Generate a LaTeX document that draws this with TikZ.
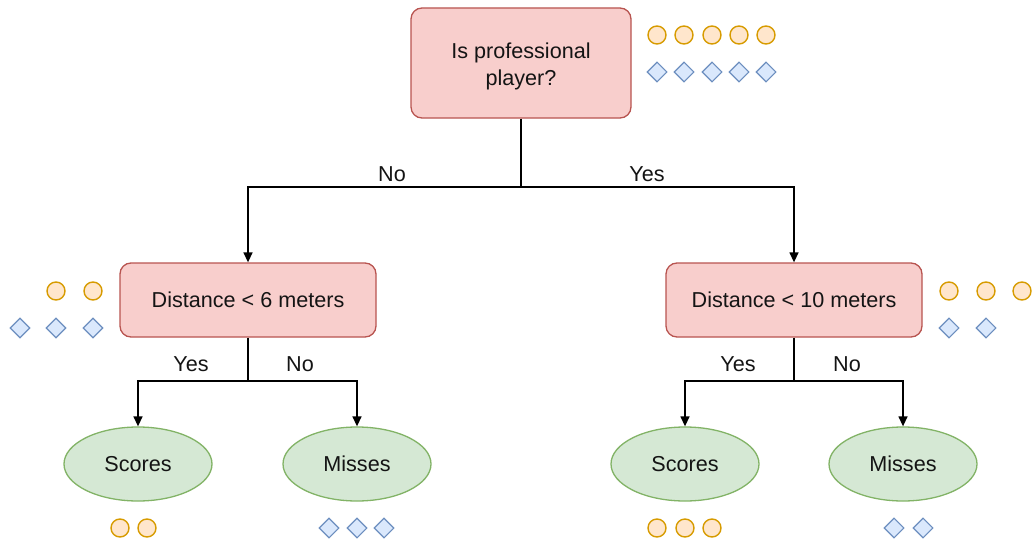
\documentclass[tikz,border=0pt]{standalone}
\usepackage{fontspec}
\setmainfont{Liberation Sans}
\usetikzlibrary{arrows.meta,shapes.geometric}
\definecolor{decfill}{HTML}{F8CECC}
\definecolor{decline}{HTML}{B85450}
\definecolor{leaffill}{HTML}{D5E8D4}
\definecolor{leafline}{HTML}{82B366}
\definecolor{ballfill}{HTML}{FFE6CC}
\definecolor{ballline}{HTML}{D79B00}
\definecolor{gemfill}{HTML}{DAE8FC}
\definecolor{gemline}{HTML}{6C8EBF}
\tikzset{
  txt/.style={font=\fontsize{21.6}{25}\selectfont, text=black!92},
  decision/.style={txt, draw=decline, fill=decfill, line width=1.3pt,
    rounded corners=11pt, minimum width=220pt, minimum height=110pt, inner sep=0pt},
  subdecision/.style={decision, minimum width=256pt, minimum height=74pt},
  leaf/.style={txt, ellipse, draw=leafline, fill=leaffill, line width=1.3pt,
    minimum width=148pt, minimum height=74pt, inner sep=0pt},
  ball/.style={circle, draw=ballline, fill=ballfill, line width=1.4pt,
    minimum size=18pt, inner sep=0pt},
  gem/.style={diamond, draw=gemline, fill=gemfill, line width=1.1pt,
    minimum size=20pt, inner sep=0pt},
  conn/.style={line width=1.4pt, -{Triangle[length=10pt,width=9pt]}},
  lbl/.style={txt}
}
\begin{document}
\begin{tikzpicture}[x=1pt,y=-1pt]
\useasboundingbox (0,0) rectangle (1033,543);

% decision nodes
\node[decision] (root) at (521,63)
  {\raisebox{-9.5pt}[0pt][0pt]{\begin{tabular}{@{}c@{}}Is professional\\[2pt]player?\end{tabular}}};
\node[subdecision] (dl) at (248,300) {Distance < 6 meters};
\node[subdecision] (dr) at (794,300) {Distance < 10 meters};

% outcomes
\node[leaf] (sl) at (138,464) {Scores};
\node[leaf] (ml) at (357,464) {Misses};
\node[leaf] (sr) at (685,464) {Scores};
\node[leaf] (mr) at (903,464) {Misses};

% connectors
\coordinate (rj) at (521,187);
\draw[conn] (root.south) -- (rj) -| (dl.north);
\draw[conn] (rj) -| (dr.north);
\coordinate (lj) at (248,381);
\draw[conn] (dl.south) -- (lj) -| (sl.north);
\draw[conn] (lj) -| (ml.north);
\coordinate (rj2) at (794,381);
\draw[conn] (dr.south) -- (rj2) -| (sr.north);
\draw[conn] (rj2) -| (mr.north);

% branch labels
\node[lbl] (n0) at (392,174) {No};
\node[lbl] (y0) at (647,174) {Yes};
\node[lbl] (y1) at (191,364) {Yes};
\node[lbl] (n1) at (300,364) {No};
\node[lbl] (y2) at (738,364) {Yes};
\node[lbl] (n2) at (847,364) {No};

% class counts at the root
\foreach \x [count=\i] in {657,684,712,739,766} {
  \node[ball] (rb\i) at (\x,35) {};
  \node[gem] (rg\i) at (\x,72) {};
}
% class counts at the left split
\foreach \x [count=\i] in {56,93} \node[ball] (lb\i) at (\x,291) {};
\foreach \x [count=\i] in {20,56,93} \node[gem] (lg\i) at (\x,328) {};
% class counts at the right split
\foreach \x [count=\i] in {949,986,1022} \node[ball] (qb\i) at (\x,291) {};
\foreach \x [count=\i] in {949,986} \node[gem] (qg\i) at (\x,328) {};
% class counts at the leaves
\foreach \x [count=\i] in {120,147} \node[ball] (slb\i) at (\x,528) {};
\foreach \x [count=\i] in {329,357,384} \node[gem] (mlg\i) at (\x,528) {};
\foreach \x [count=\i] in {657,685,712} \node[ball] (srb\i) at (\x,528) {};
\foreach \x [count=\i] in {894,923} \node[gem] (mrg\i) at (\x,528) {};
\end{tikzpicture}
\end{document}
